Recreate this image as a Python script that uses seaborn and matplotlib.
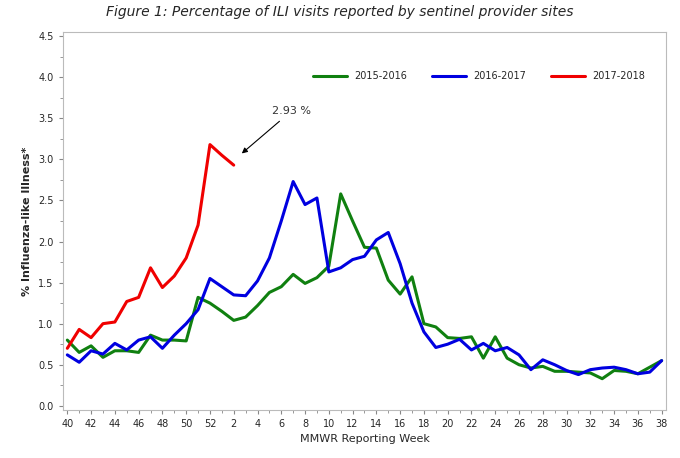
import numpy as np
import pandas as pd
import matplotlib
matplotlib.use('Agg')
import matplotlib.pyplot as plt
import seaborn as sns

weeks = list(range(40, 53)) + list(range(1, 39))

ili_1516 = [0.80, 0.65, 0.73, 0.59, 0.67, 0.67, 0.65, 0.86, 0.80, 0.80, 0.79, 1.32, 1.25,
            1.15, 1.04, 1.08, 1.22, 1.38, 1.45, 1.60, 1.49, 1.56, 1.70, 2.58, 2.25, 1.93,
            1.92, 1.53, 1.36, 1.57, 1.00, 0.96, 0.83, 0.82, 0.84, 0.58, 0.84, 0.58, 0.50,
            0.46, 0.48, 0.42, 0.42, 0.41, 0.40, 0.33, 0.43, 0.42, 0.39, 0.47, 0.55]
ili_1617 = [0.62, 0.53, 0.67, 0.63, 0.76, 0.68, 0.80, 0.84, 0.70, 0.86, 1.00, 1.17, 1.55,
            1.45, 1.35, 1.34, 1.52, 1.80, 2.25, 2.73, 2.45, 2.53, 1.63, 1.68, 1.78, 1.82,
            2.02, 2.11, 1.73, 1.25, 0.90, 0.71, 0.75, 0.81, 0.68, 0.76, 0.67, 0.71, 0.62,
            0.44, 0.56, 0.50, 0.43, 0.38, 0.44, 0.46, 0.47, 0.44, 0.39, 0.41, 0.55]
ili_1718 = [0.70, 0.93, 0.83, 1.00, 1.02, 1.27, 1.32, 1.68, 1.44, 1.58, 1.80, 2.20, 3.18,
            3.05, 2.93]

seasons = ["2015-2016", "2016-2017", "2017-2018"]
colors = ["#108010", "#0000e0", "#f00000"]

rows = []
for name, vals in zip(seasons, [ili_1516, ili_1617, ili_1718]):
    for i, v in enumerate(vals):
        rows.append({"pos": i, "season": name, "ili": v})
df = pd.DataFrame(rows)

sns.set_style("white")
fig = plt.figure(figsize=(6.8, 4.58), dpi=100)
ax = fig.add_axes([0.092, 0.105, 0.888, 0.825])

sns.lineplot(data=df, x="pos", y="ili", hue="season", palette=colors,
             linewidth=2.2, ax=ax)

ax.set_xlim(-0.4, len(weeks) - 0.6)
ax.set_ylim(-0.05, 4.55)
ax.set_xticks(range(0, len(weeks), 2))
ax.set_xticklabels([str(weeks[i]) for i in range(0, len(weeks), 2)], fontsize=7)
ax.set_xticks(range(len(weeks)), minor=True)
ax.set_yticks(np.arange(0, 4.51, 0.5))
ax.set_yticklabels([f"{v:.1f}" for v in np.arange(0, 4.51, 0.5)], fontsize=7)
ax.set_yticks(np.arange(0, 4.51, 0.25), minor=True)
ax.tick_params(which="both", direction="out", length=3, color="#888888", bottom=True, left=True)
ax.tick_params(which="minor", length=2)
for s in ax.spines.values():
    s.set_color("#bbbbbb")

ax.set_xlabel("MMWR Reporting Week", fontsize=8)
ax.set_ylabel("% Influenza-like Illness*", fontsize=8, fontweight="bold")

ax.legend(loc="upper right", bbox_to_anchor=(0.98, 0.92), ncol=3, frameon=False,
          fontsize=7, handlelength=3.5, columnspacing=2.5)

ax.annotate("2.93 %", xy=(14.5, 3.05), xytext=(17.2, 3.55), fontsize=8, color="#333333",
            arrowprops=dict(arrowstyle="-|>", color="black", lw=0.8))

fig.suptitle("Figure 1: Percentage of ILI visits reported by sentinel provider sites",
             fontsize=10, style="italic", y=0.99)

fig.savefig("out.png", dpi=100)
